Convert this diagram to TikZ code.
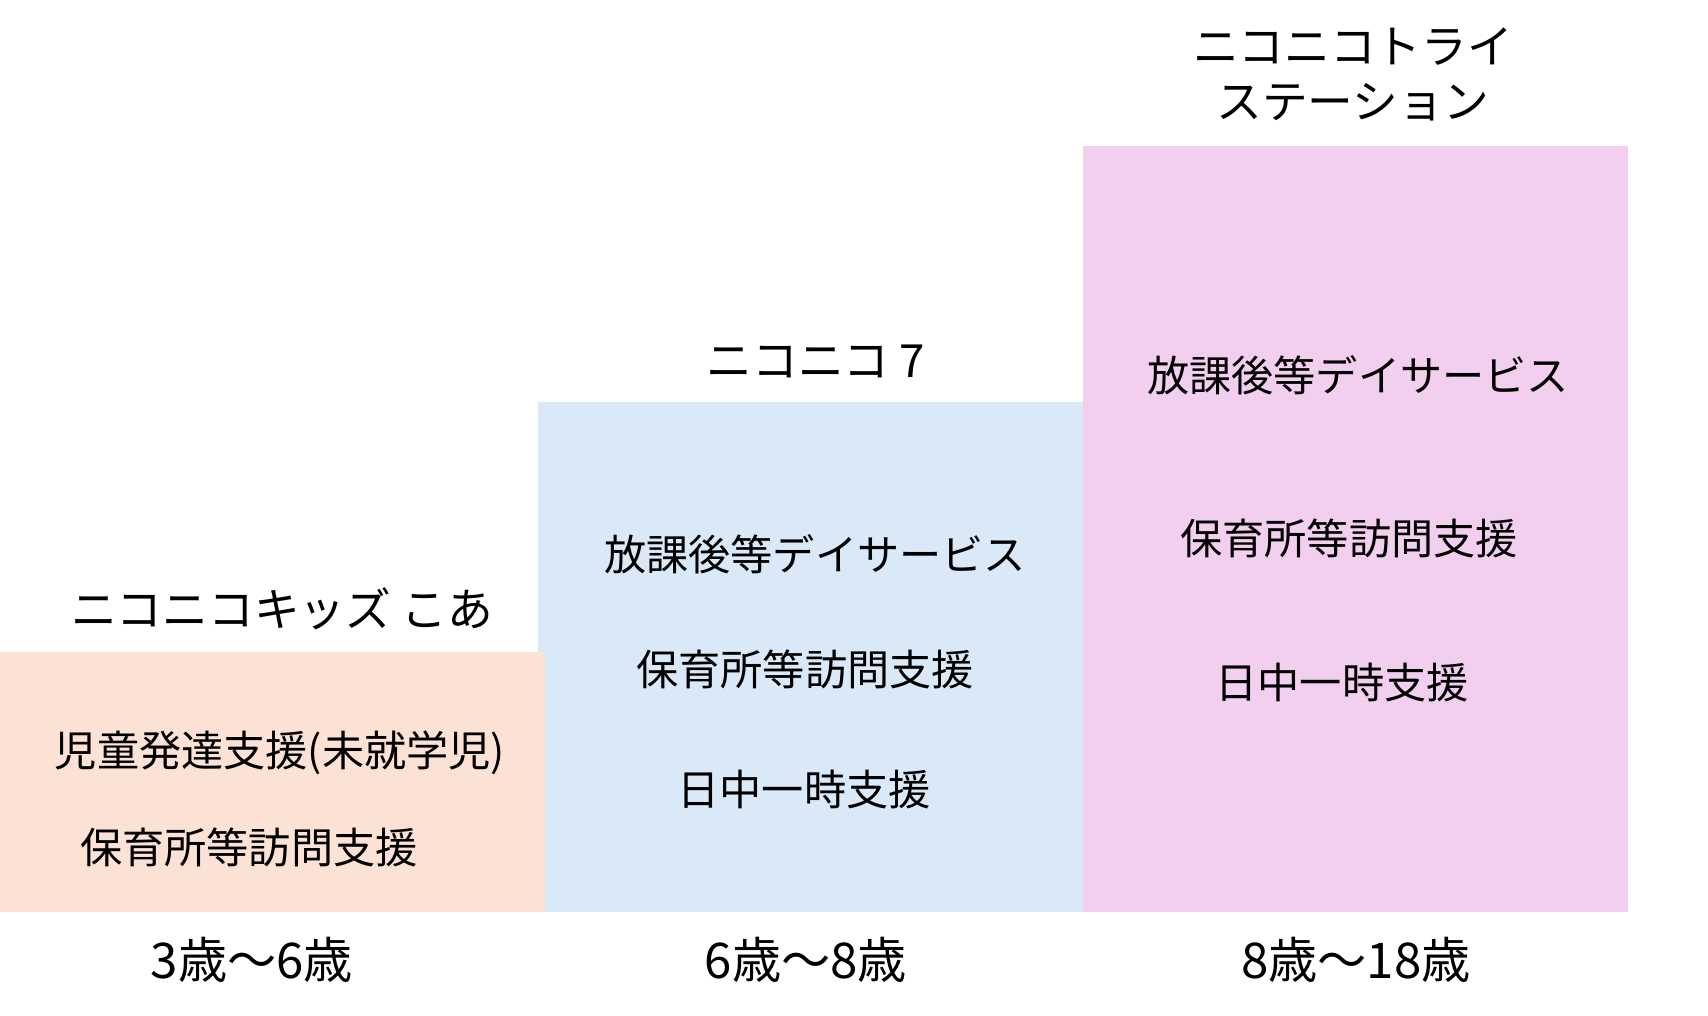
\documentclass[tikz,border=0pt]{standalone}
\usepackage{fontspec}
\setmainfont{Noto Sans CJK JP}
\usepackage{tikz}
\usetikzlibrary{positioning}
\definecolor{peach}{RGB}{251,226,213}
\definecolor{paleblue}{RGB}{218,233,248}
\definecolor{palepink}{RGB}{242,206,239}
\tikzset{service/.style = {font=\fontsize{12}{14}\selectfont, inner sep=0}}
\tikzset{title/.style = {font=\fontsize{13}{15.6}\selectfont, inner sep=0, align=center}}
\tikzset{age/.style = {font=\fontsize{14}{16}\selectfont, inner sep=0}}

\begin{document}
\begin{tikzpicture}
      \useasboundingbox (0, 0) rectangle (17.08, -10.16);

      \fill [paleblue] (5.38, -4.02) rectangle (10.83, -9.12);
      \fill [peach] (0, -6.52) rectangle (5.45, -9.12);
      \fill [palepink] (10.83, -1.46) rectangle (16.28, -9.12);

      \node [title] (koa) at (2.82, -6.09) {ニコニコキッズ こあ};
      \node [title] (seven) at (8.16, -3.61) {ニコニコ 7};
      \node [title] (tri) at (13.53, -0.74) {ニコニコトライ\\ステーション};

      \node [service] (koa1) at (2.80, -7.53) {児童発達支援(未就学児)};
      \node [service] (koa2) at (2.49, -8.47) {保育所等訪問支援};

      \node [service] (seven1) at (8.15, -5.54) {放課後等デイサービス};
      \node [service] (seven2) at (8.05, -6.69) {保育所等訪問支援};
      \node [service] (seven3) at (8.04, -7.90) {日中一時支援};

      \node [service] (tri1) at (13.58, -3.75) {放課後等デイサービス};
      \node [service] (tri2) at (13.49, -5.38) {保育所等訪問支援};
      \node [service] (tri3) at (13.42, -6.83) {日中一時支援};

      \node [age] (age1) at (2.52, -9.60) {3歳〜6歳};
      \node [age] (age2) at (8.06, -9.60) {6歳〜8歳};
      \node [age] (age3) at (13.56, -9.60) {8歳〜18歳};
    \end{tikzpicture}
\end{document}
